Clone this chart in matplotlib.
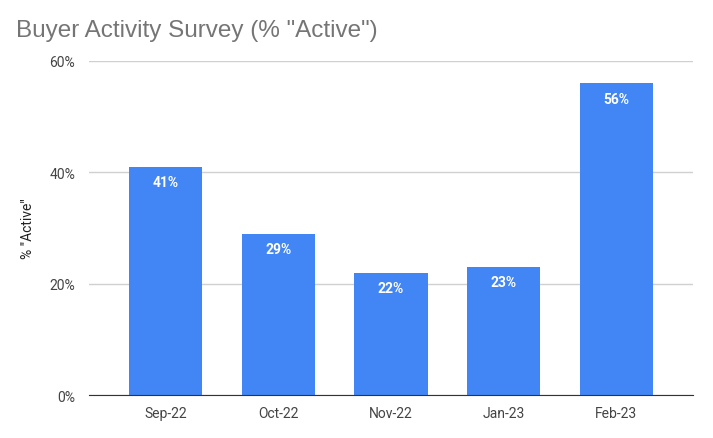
import matplotlib.pyplot as plt
from matplotlib.ticker import PercentFormatter

months = ['Sep-22', 'Oct-22', 'Nov-22', 'Jan-23', 'Feb-23']
active_pct = [41, 29, 22, 23, 56]
y_ticks = [0, 20, 40, 60]

plt.rcParams['font.family'] = ['Roboto', 'DejaVu Sans']

fig = plt.figure(figsize=(7.13, 4.39), dpi=100)
ax = fig.add_axes([0.1248, 0.0979, 0.8472, 0.7609])

x = range(len(months))
bars = ax.bar(x, active_pct, width=0.65, color='#4285F4', zorder=3)

for rect, val in zip(bars, active_pct):
    ax.annotate(f'{val}%', (rect.get_x() + rect.get_width() / 2, rect.get_height()),
                xytext=(0, -6), textcoords='offset points', ha='center', va='top',
                color='white', fontsize=10, fontweight='bold', zorder=4)

ax.set_xlim(-0.68, 4.68)
ax.set_ylim(0, 60)
ax.set_xticks(list(x))
ax.set_xticklabels(months)
ax.set_yticks(y_ticks)
ax.yaxis.set_major_formatter(PercentFormatter(decimals=0))
ax.tick_params(axis='both', length=0, labelsize=10, colors='#444444', pad=8)
ax.tick_params(axis='y', pad=10)

ax.grid(axis='y', color='#d0d0d0', linewidth=1, zorder=0)
for side in ['top', 'right', 'left']:
    ax.spines[side].set_visible(False)
ax.spines['bottom'].set_color('#333333')
ax.spines['bottom'].set_zorder(5)

ax.set_ylabel('% "Active"', fontsize=10, color='#222222', labelpad=10)

fig.text(0.022, 0.93, 'Buyer Activity Survey (% "Active")', fontsize=17.5,
         color='#757575', va='center', ha='left', family=['Liberation Sans', 'DejaVu Sans'])

fig.savefig('out.png', dpi=100)
